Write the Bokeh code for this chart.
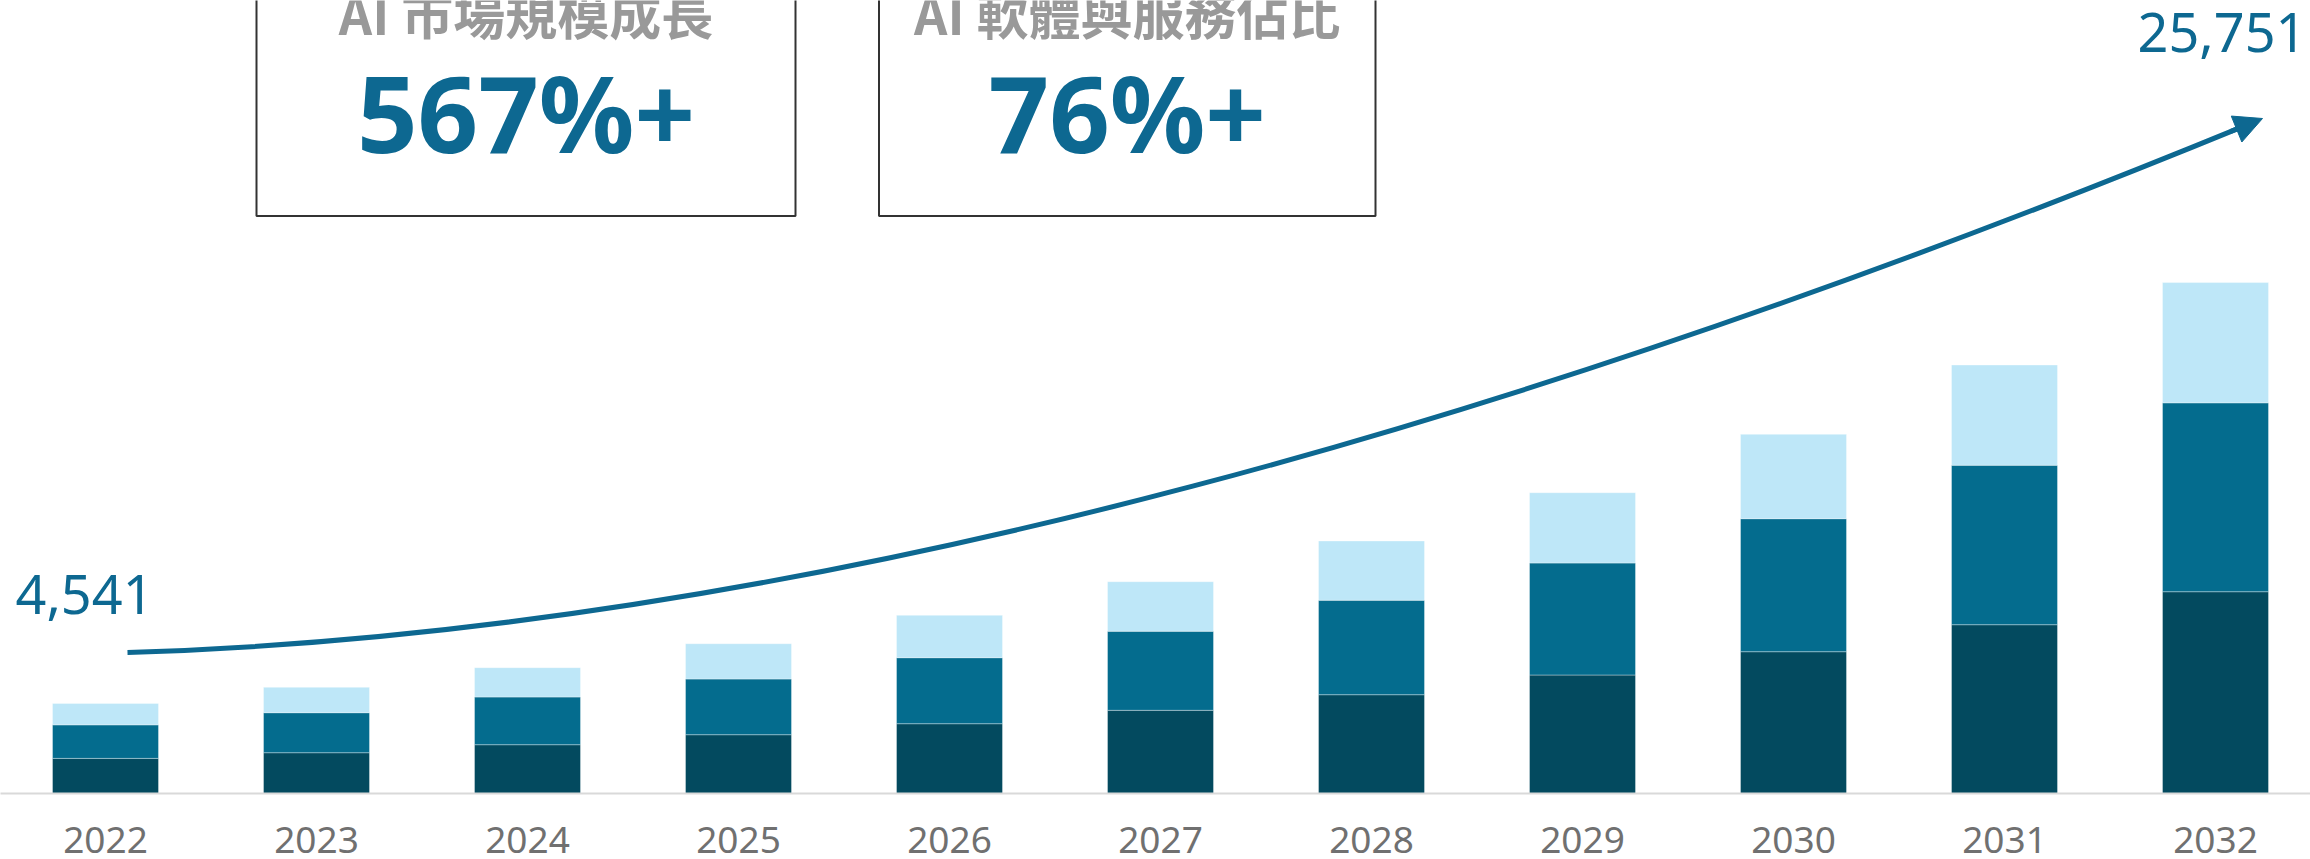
from bokeh.plotting import figure
from bokeh.models import (ColumnDataSource, Range1d, FixedTicker, Label, BoxAnnotation,
                          Arrow, NormalHead)
from bokeh.embed import file_html
from bokeh.resources import INLINE

# ---------------- data ----------------
years = [2022, 2023, 2024, 2025, 2026, 2027, 2028, 2029, 2030, 2031, 2032]
dark = [1770, 2056, 2460, 2964, 3518, 4193, 4980, 5972, 7147, 8508, 10170]
mid = [1690, 2016, 2404, 2807, 3326, 3982, 4758, 5645, 6703, 8034, 9520]
light = [1081, 1280, 1477, 1779, 2137, 2500, 2989, 3543, 4254, 5055, 6061]
year_labels = [str(y) for y in years]

card_titles = ["AI 市場規模成長", "AI 軟體與服務佔比"]
card_values = ["567%+", "76%+"]

totals = [d + m + l for d, m, l in zip(dark, mid, light)]
start_label = f"{totals[0]:,}"
end_label = f"{totals[-1]:,}"

# ---------------- styling ----------------
C_DARK = "#034A5F"
C_MID = "#046C8E"
C_LIGHT = "#BEE7F8"
C_BLUE = "#0D6891"
C_GRAY_TITLE = "#999999"
C_YEAR = "#707070"

W, FH = 2310, 793
PX_PER_YEAR = 211.0
X0 = years[0] - 105.0 / PX_PER_YEAR          # data x at left pixel edge
K = 50.4                                     # value units per pixel


def xd(px):
    return X0 + px / PX_PER_YEAR


def yd(py):
    return (FH - py) * K


p = figure(frame_width=W, frame_height=FH, min_border=0,
           x_range=Range1d(X0, X0 + W / PX_PER_YEAR),
           y_range=Range1d(0, FH * K),
           x_axis_location="below", y_axis_location=None,
           toolbar_location=None, output_backend="svg")
p.outline_line_color = None
p.xgrid.visible = False
p.ygrid.visible = False
p.background_fill_color = "white"
p.border_fill_color = "white"

src = ColumnDataSource(dict(year=years, dark=dark, mid=mid, light=light))
p.vbar_stack(["dark", "mid", "light"], x="year", width=106 / PX_PER_YEAR,
             color=[C_DARK, C_MID, C_LIGHT], line_color="white", line_alpha=0.35,
             line_width=1, source=src)

ax = p.xaxis[0]
ax.ticker = FixedTicker(ticks=years)
ax.major_label_overrides = {y: s for y, s in zip(years, year_labels)}
ax.major_tick_line_color = None
ax.minor_tick_line_color = None
ax.major_tick_out = 0
ax.axis_line_color = "#D9D9D9"
ax.axis_line_width = 2
ax.major_label_text_font = "Noto Sans"
ax.major_label_text_font_size = "37px"
ax.major_label_text_color = C_YEAR
ax.major_label_standoff = 33

# growth arrow (cubic bezier + arrow head)
p.bezier(x0=[xd(127)], y0=[yd(652)], x1=[xd(2243.5)], y1=[yd(125.6)],
         cx0=[xd(827)], cy0=[yd(631)], cx1=[xd(1562)], cy1=[yd(405)],
         line_color=C_BLUE, line_width=5)
p.add_layout(Arrow(end=NormalHead(size=28, fill_color=C_BLUE, line_color=C_BLUE, line_width=1),
                   x_start=xd(2230), y_start=yd(131), x_end=xd(2262), y_end=yd(118),
                   line_color=C_BLUE, line_width=5))

# value labels
p.add_layout(Label(x=xd(15), y=yd(594), text=start_label, text_align="left",
                   text_baseline="alphabetic", text_font="Noto Sans",
                   text_font_size="54px", text_color=C_BLUE))
p.add_layout(Label(x=xd(2306), y=yd(32), text=end_label, text_align="right",
                   text_baseline="alphabetic", text_font="Noto Sans",
                   text_font_size="54px", text_color=C_BLUE))

# cards
cards = [(256, 795), (878.5, 1375)]
for (l, r), title, val in zip(cards, card_titles, card_values):
    p.add_layout(BoxAnnotation(left=xd(l), right=xd(r), top=yd(-20), bottom=yd(215.5),
                               fill_color=None, fill_alpha=0, line_color="#333333",
                               line_alpha=1.0, line_width=2))
    cx = (l + r) / 2
    p.add_layout(Label(x=xd(cx), y=yd(12), text=title, text_align="center",
                       text_baseline="alphabetic", text_font="Noto Sans CJK TC",
                       text_font_size="52px", text_font_style="bold",
                       text_color=C_GRAY_TITLE))
    p.add_layout(Label(x=xd(cx), y=yd(111), text=val, text_align="center",
                       text_baseline="alphabetic", text_font="Noto Sans",
                       text_font_size="106px", text_font_style="bold",
                       text_color=C_BLUE))

open("out.html", "w").write(file_html(p, INLINE))
